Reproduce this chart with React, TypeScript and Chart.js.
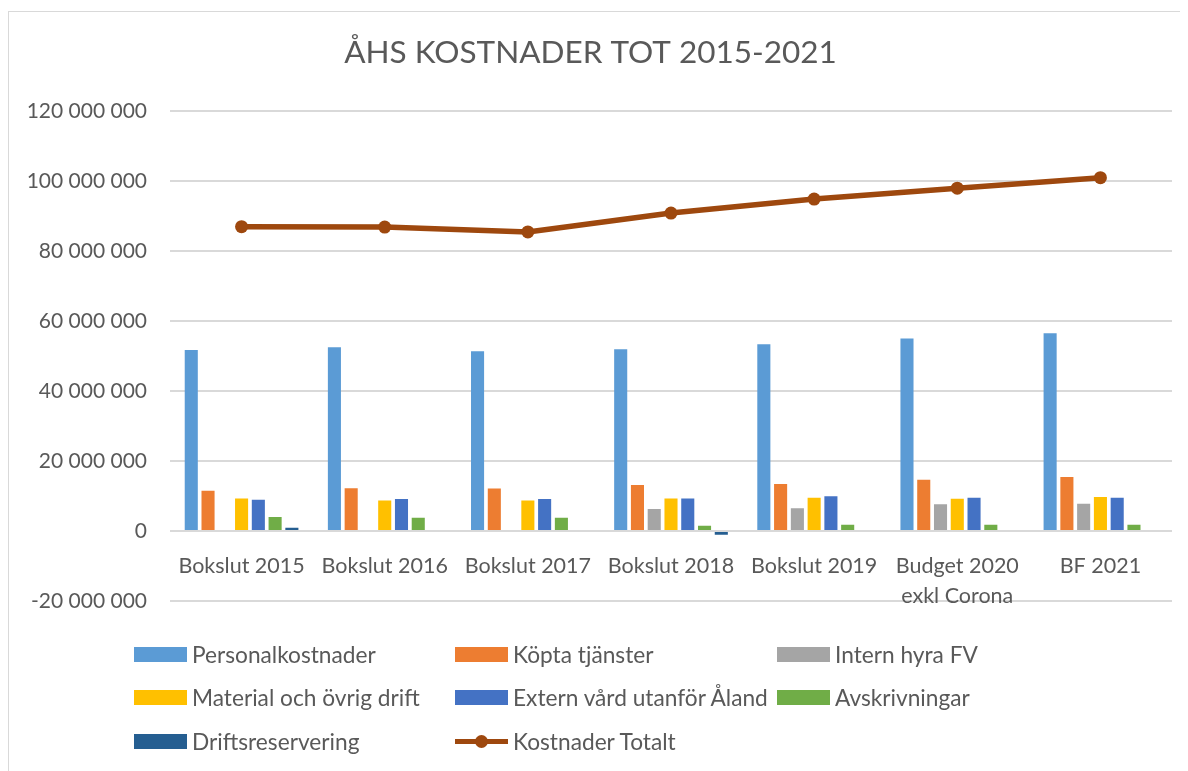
import React, { useEffect, useRef } from "react";
import { Chart, registerables } from "chart.js";

Chart.register(...registerables);

const categories: (string | string[])[] = [
  "Bokslut 2015",
  "Bokslut 2016",
  "Bokslut 2017",
  "Bokslut 2018",
  "Bokslut 2019",
  ["Budget 2020", "exkl Corona"],
  "BF 2021",
];

const personalkostnader = [51700000, 52500000, 51300000, 51900000, 53300000, 55000000, 56500000];
const kopptaTjanster = [11500000, 12200000, 12100000, 13100000, 13400000, 14600000, 15400000];
const internHyraFV = [null, null, null, 6300000, 6500000, 7600000, 7800000];
const materialOvrigDrift = [9300000, 8700000, 8700000, 9300000, 9500000, 9200000, 9700000];
const externVard = [8900000, 9100000, 9100000, 9300000, 9900000, 9500000, 9500000];
const avskrivningar = [4000000, 3800000, 3800000, 1500000, 1800000, 1800000, 1800000];
const driftsreservering = [950000, null, null, -1050000, null, null, null];
const kostnaderTotalt = [86900000, 86800000, 85400000, 90800000, 94800000, 97900000, 100900000];

const yTicksMin = -20000000;
const yTicksMax = 120000000;
const yTickStep = 20000000;

const barSeries = [
  { label: "Personalkostnader", data: personalkostnader, color: "#5B9BD5" },
  { label: "Köpta tjänster", data: kopptaTjanster, color: "#ED7D31" },
  { label: "Intern hyra FV", data: internHyraFV, color: "#A5A5A5" },
  { label: "Material och övrig drift", data: materialOvrigDrift, color: "#FFC000" },
  { label: "Extern vård utanför Åland", data: externVard, color: "#4472C4" },
  { label: "Avskrivningar", data: avskrivningar, color: "#70AD47" },
  { label: "Driftsreservering", data: driftsreservering, color: "#255E91" },
];
const lineLabel = "Kostnader Totalt";
const lineColor = "#9E480E";

const FONT = "Lato, 'Open Sans', sans-serif";
const TEXT = "#595959";

function fmt(v: number): string {
  const s = String(Math.abs(Math.round(v))).replace(/\B(?=(\d{3})+(?!\d))/g, " ");
  return (v < 0 ? "-" : "") + s;
}

const legendCols = [125, 446, 768];
const legendRows = [642, 685, 729];

export default function App() {
  const ref = useRef<HTMLCanvasElement | null>(null);

  useEffect(() => {
    if (!ref.current) return;
    const datasets: any[] = barSeries.map((s) => ({
      type: "bar",
      label: s.label,
      data: s.data,
      backgroundColor: s.color,
      borderWidth: 0,
      categoryPercentage: 0.82,
      barPercentage: 0.78,
      order: 1,
    }));
    datasets.push({
      type: "line",
      label: lineLabel,
      data: kostnaderTotalt,
      borderColor: lineColor,
      backgroundColor: lineColor,
      borderWidth: 5.5,
      pointRadius: 6.5,
      pointBackgroundColor: lineColor,
      pointBorderColor: lineColor,
      pointBorderWidth: 0,
      tension: 0,
      order: 0,
    });
    const chart = new Chart(ref.current, {
      type: "bar",
      data: { labels: categories as any, datasets },
      options: {
        animation: false,
        responsive: true,
        maintainAspectRatio: false,
        layout: { padding: { left: 0, right: 16, top: 0, bottom: 170 } },
        plugins: {
          legend: { display: false },
          tooltip: { enabled: false },
          title: {
            display: true,
            text: "ÅHS KOSTNADER TOT 2015-2021",
            color: TEXT,
            font: { family: FONT, size: 31.5, weight: "normal" as any, lineHeight: 1.2 },
            padding: { top: 22, bottom: 39 },
          },
        },
        scales: {
          x: {
            position: { y: 0 } as any,
            grid: { display: false, drawTicks: false },
            border: { display: false },
            ticks: {
              color: TEXT,
              font: { family: FONT, size: 21.5, lineHeight: 1.4 },
              padding: 20,
              maxRotation: 0,
              autoSkip: false,
            },
          },
          y: {
            min: yTicksMin,
            max: yTicksMax,
            afterFit: (scale: any) => {
              scale.width = 161;
            },
            grid: { color: "#D9D9D9", lineWidth: 2, drawTicks: false },
            border: { display: false },
            ticks: {
              stepSize: yTickStep,
              color: TEXT,
              padding: 23,
              font: { family: FONT, size: 21 },
              callback: (v: any) => fmt(Number(v)),
            },
          },
        },
      },
    });
    return () => chart.destroy();
  }, []);

  const legendItems = [
    ...barSeries.map((s) => ({ label: s.label, color: s.color, line: false })),
    { label: lineLabel, color: lineColor, line: true },
  ];

  return (
    <div
      style={{
        marginTop: 3,
        width: 1180,
        height: 760,
        borderLeft: "1px solid #D9D9D9",
        borderTop: "1px solid #D9D9D9",
        background: "#fff",
      }}
    >
      <div style={{ position: "relative", width: 1179, height: 759 }}>
        <canvas ref={ref} />
        {legendItems.map((it, i) => {
          const col = i % 3;
          const row = Math.floor(i / 3);
          return (
            <div
              key={it.label}
              style={{
                position: "absolute",
                left: legendCols[col],
                top: legendRows[row] - 15,
                height: 30,
                display: "flex",
                alignItems: "center",
                fontFamily: FONT,
                fontSize: 22.7,
                color: TEXT,
                whiteSpace: "nowrap",
              }}
            >
              {it.line ? (
                <span style={{ position: "relative", width: 53, height: 15, marginRight: 5, display: "inline-block" }}>
                  <span style={{ position: "absolute", left: 0, right: 0, top: 5, height: 5, background: it.color }} />
                  <span
                    style={{
                      position: "absolute",
                      left: 20,
                      top: 1,
                      width: 13,
                      height: 13,
                      borderRadius: "50%",
                      background: it.color,
                    }}
                  />
                </span>
              ) : (
                <span style={{ width: 53, height: 15, background: it.color, marginRight: 5, display: "inline-block" }} />
              )}
              <span>{it.label}</span>
            </div>
          );
        })}
      </div>
    </div>
  );
}
